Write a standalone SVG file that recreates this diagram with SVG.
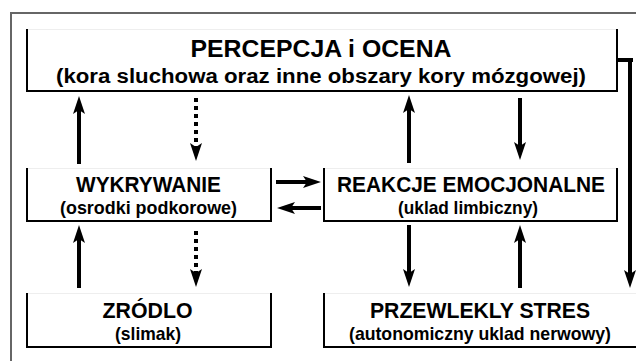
<svg xmlns="http://www.w3.org/2000/svg" width="636" height="361" viewBox="0 0 636 361">
  <style>
    .t { font-family: "Liberation Sans", Arial, sans-serif; font-weight: bold; fill: #000; text-anchor: middle; }
    .title { font-size: 22px; }
    .sub { font-size: 18.5px; }
    .edge { fill: none; stroke: #000; stroke-width: 2; }
    .top { fill: none; stroke: #eeeeee; stroke-width: 1; }
    .arr { fill: none; stroke: #000; stroke-width: 4; marker-end: url(#ah); }
    .dot { fill: none; stroke: #000; stroke-width: 4; stroke-dasharray: 4 4; marker-end: url(#ah); }
  </style>
  <defs>
    <marker id="ah" viewBox="0 0 18 12" refX="6" refY="6" markerWidth="18" markerHeight="12" markerUnits="userSpaceOnUse" orient="auto">
      <path d="M0,0 L18,6 L0,12 L4,6 Z" fill="#000"/>
    </marker>
  </defs>
  <rect width="636" height="361" fill="#fff"/>
  <path d="M11,361 V13 H636" fill="none" stroke="#666" stroke-width="2"/>

  <g id="percepcja">
    <path class="top" d="M27,29.5 H617"/>
    <path class="edge" d="M27,29 V91 H617 V29"/>
    <text class="t title" x="321" y="57" style="font-size:23px" textLength="261" lengthAdjust="spacingAndGlyphs">PERCEPCJA i OCENA</text>
    <text class="t sub" x="321" y="83" style="font-size:20px" textLength="530" lengthAdjust="spacingAndGlyphs">(kora sluchowa oraz inne obszary kory mózgowej)</text>
  </g>
  <g id="wykrywanie">
    <path class="top" d="M27,168.5 H271"/>
    <path class="edge" d="M27,168 V221 H271 V168"/>
    <text class="t title" x="148.5" y="192" textLength="145" lengthAdjust="spacingAndGlyphs">WYKRYWANIE</text>
    <text class="t sub" x="148.5" y="214" textLength="177" lengthAdjust="spacingAndGlyphs">(osrodki podkorowe)</text>
  </g>
  <g id="reakcje">
    <path class="top" d="M324,168.5 H617"/>
    <path class="edge" d="M324,168 V221 H617 V168"/>
    <text class="t title" x="471" y="192" textLength="268" lengthAdjust="spacingAndGlyphs">REAKCJE EMOCJONALNE</text>
    <text class="t sub" x="468" y="214" textLength="140" lengthAdjust="spacingAndGlyphs">(uklad limbiczny)</text>
  </g>
  <g id="zrodlo">
    <path class="top" d="M27,293.5 H271"/>
    <path class="edge" d="M27,293 V347 H271 V293"/>
    <text class="t title" x="147.5" y="318" textLength="90" lengthAdjust="spacingAndGlyphs">ZRÓDLO</text>
    <text class="t sub" x="148" y="340" textLength="66" lengthAdjust="spacingAndGlyphs">(slimak)</text>
  </g>
  <g id="stres">
    <path class="top" d="M324,293.5 H636"/>
    <path class="edge" d="M324,293 V347 H640"/>
    <text class="t title" x="480" y="318" textLength="220" lengthAdjust="spacingAndGlyphs">PRZEWLEKLY STRES</text>
    <text class="t sub" x="480" y="340" textLength="262" lengthAdjust="spacingAndGlyphs">(autonomiczny uklad nerwowy)</text>
  </g>

  <g id="connectors">
    <line class="arr" x1="79" y1="164" x2="79" y2="108"/>
    <line class="dot" x1="196" y1="98" x2="196" y2="149"/>
    <line class="arr" x1="409" y1="163" x2="409" y2="107"/>
    <line class="arr" x1="520" y1="98" x2="520" y2="148"/>
    <line class="arr" x1="276" y1="182" x2="309" y2="182"/>
    <line class="arr" x1="321" y1="208" x2="289" y2="208"/>
    <line class="arr" x1="79" y1="288" x2="79" y2="237"/>
    <line class="dot" x1="196" y1="231" x2="196" y2="275"/>
    <line class="arr" x1="409" y1="225" x2="409" y2="275"/>
    <line class="arr" x1="520" y1="288" x2="520" y2="237"/>
    <path d="M617,60 H633" fill="none" stroke="#000" stroke-width="4"/>
    <path class="arr" d="M630,58 V276" stroke-width="5"/>
  </g>
</svg>
